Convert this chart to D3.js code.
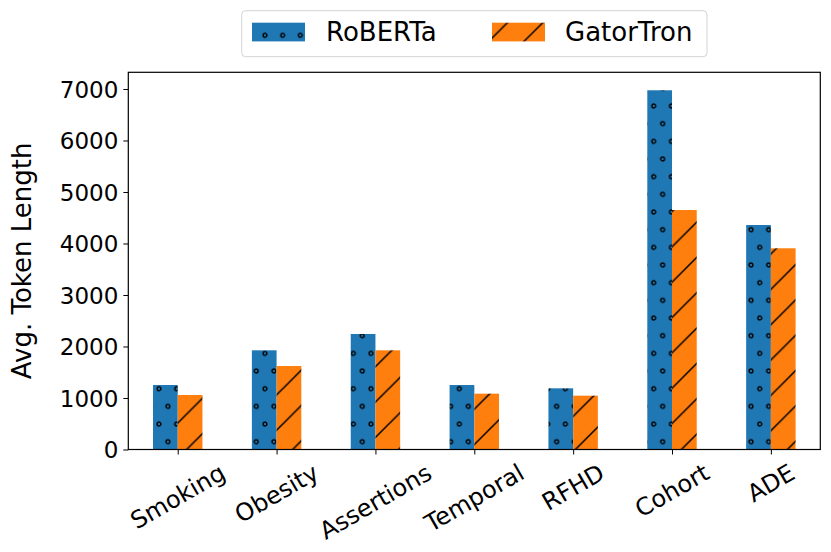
<!DOCTYPE html>
<html>
<head>
<meta charset="utf-8">
<script src="https://cdnjs.cloudflare.com/ajax/libs/d3/7.8.5/d3.min.js"></script>
<style>
  body { margin: 0; background: #fff; }
  text { font-family: "DejaVu Sans", sans-serif; fill: #000; }
</style>
</head>
<body>
<div id="chart"></div>
<script>
const categories = ['Smoking', 'Obesity', 'Assertions', 'Temporal', 'RFHD', 'Cohort', 'ADE'];
const robertaValues = [1252, 1926, 2243, 1252, 1188, 6975, 4359];
const gatortronValues = [1058, 1621, 1926, 1084, 1045, 4650, 3907];
const yTicks = [0, 1000, 2000, 3000, 4000, 5000, 6000, 7000];
const seriesNames = ['RoBERTa', 'GatorTron'];

const width = 831, height = 552;
const margin = { top: 72.3, right: 10.7, bottom: 102.5, left: 128.3 };

const svg = d3.select('#chart').append('svg')
    .attr('width', width)
    .attr('height', height);

// hatch patterns, anchored to the page like matplotlib does
const defs = svg.append('defs');
const cell = 17.67;

const dots = defs.append('pattern')
    .attr('id', 'dots')
    .attr('patternUnits', 'userSpaceOnUse')
    .attr('width', cell)
    .attr('height', cell * 2);
dots.append('rect').attr('width', cell).attr('height', cell * 2).attr('fill', '#1f77b4');
[[0, 0], [cell, 0], [0, cell * 2], [cell, cell * 2], [cell / 2, cell]].forEach(p => {
    dots.append('circle')
        .attr('cx', p[0]).attr('cy', p[1]).attr('r', 1.9)
        .attr('fill', 'none').attr('stroke', '#000').attr('stroke-width', 1.4);
});

const slash = defs.append('pattern')
    .attr('id', 'slash')
    .attr('patternUnits', 'userSpaceOnUse')
    .attr('width', cell * 2)
    .attr('height', cell * 2);
slash.append('rect').attr('width', cell * 2).attr('height', cell * 2).attr('fill', '#ff7f0e');
slash.append('path')
    .attr('d', `M0,${cell * 2} L${cell * 2},0 M-4,4 L4,-4 M${cell * 2 - 4},${cell * 2 + 4} L${cell * 2 + 4},${cell * 2 - 4}`)
    .attr('stroke', '#000').attr('stroke-width', 1.5);

const x = d3.scaleLinear()
    .domain([-0.5, categories.length - 0.5])
    .range([margin.left, width - margin.right]);

const y = d3.scaleLinear()
    .domain([0, 7324])
    .range([height - margin.bottom, margin.top]);

const barW = 0.25;

const data = categories.map((c, i) => ({ cat: c, i, roberta: robertaValues[i], gatortron: gatortronValues[i] }));

svg.selectAll('.roberta-bar')
    .data(data)
    .enter()
    .append('rect')
    .attr('class', 'roberta-bar')
    .attr('x', d => x(d.i - barW))
    .attr('y', d => y(d.roberta))
    .attr('width', d => x(d.i) - x(d.i - barW))
    .attr('height', d => y(0) - y(d.roberta))
    .attr('fill', 'url(#dots)');

svg.selectAll('.gatortron-bar')
    .data(data)
    .enter()
    .append('rect')
    .attr('class', 'gatortron-bar')
    .attr('x', d => x(d.i))
    .attr('y', d => y(d.gatortron))
    .attr('width', d => x(d.i + barW) - x(d.i))
    .attr('height', d => y(0) - y(d.gatortron))
    .attr('fill', 'url(#slash)');

// y axis
const yAxis = svg.append('g')
    .attr('transform', `translate(${margin.left},0)`)
    .call(d3.axisLeft(y).tickValues(yTicks).tickFormat(d3.format('d')).tickSize(5).tickPadding(5));
yAxis.selectAll('text').style('font-size', '23px').attr('dy', '0.35em');
yAxis.select('.domain').remove();

// x axis
const xAxis = svg.append('g')
    .attr('transform', `translate(0,${height - margin.bottom})`)
    .call(d3.axisBottom(x).tickValues(d3.range(categories.length)).tickFormat(i => categories[i]).tickSize(5));
xAxis.select('.domain').remove();
xAxis.selectAll('text').remove();

// rotated x labels, centred under ticks like matplotlib rotation=30
const labelTop = height - margin.bottom + 11;
const xFont = 24;
svg.selectAll('.x-label')
    .data(data)
    .enter()
    .append('text')
    .attr('class', 'x-label')
    .style('font-size', xFont + 'px')
    .attr('text-anchor', 'middle')
    .attr('dy', '0.35em')
    .text(d => d.cat)
    .each(function (d) {
        const w = this.getComputedTextLength();
        const h = xFont * 0.95;
        const a = Math.PI / 6;
        const bh = w * Math.sin(a) + h * Math.cos(a);
        const cx = x(d.i), cy = labelTop + bh / 2;
        d3.select(this).attr('transform', `translate(${cx},${cy}) rotate(-30)`);
    });

// frame
svg.append('rect')
    .attr('x', margin.left)
    .attr('y', margin.top)
    .attr('width', width - margin.right - margin.left)
    .attr('height', height - margin.bottom - margin.top)
    .attr('fill', 'none')
    .attr('stroke', '#000')
    .attr('stroke-width', 1.2);

// y label
svg.append('text')
    .attr('transform', `translate(31,${(margin.top + height - margin.bottom) / 2}) rotate(-90)`)
    .attr('text-anchor', 'middle')
    .style('font-size', '26px')
    .text('Avg. Token Length');

// legend
const legend = svg.append('g');
legend.append('rect')
    .attr('x', 241.7).attr('y', 10.7)
    .attr('width', 465.3).attr('height', 46)
    .attr('rx', 4)
    .attr('fill', '#fff')
    .attr('stroke', '#d3d3d3')
    .attr('stroke-width', 1);

const legendItems = [
    { name: seriesNames[0], fill: 'url(#dots)', px: 252, tx: 326 },
    { name: seriesNames[1], fill: 'url(#slash)', px: 492, tx: 565 }
];
legendItems.forEach(it => {
    legend.append('rect')
        .attr('x', it.px).attr('y', 22.7)
        .attr('width', 53).attr('height', 18.7)
        .attr('fill', it.fill);
    legend.append('text')
        .attr('x', it.tx).attr('y', 41)
        .style('font-size', '26px')
        .text(it.name);
});
</script>
</body>
</html>
